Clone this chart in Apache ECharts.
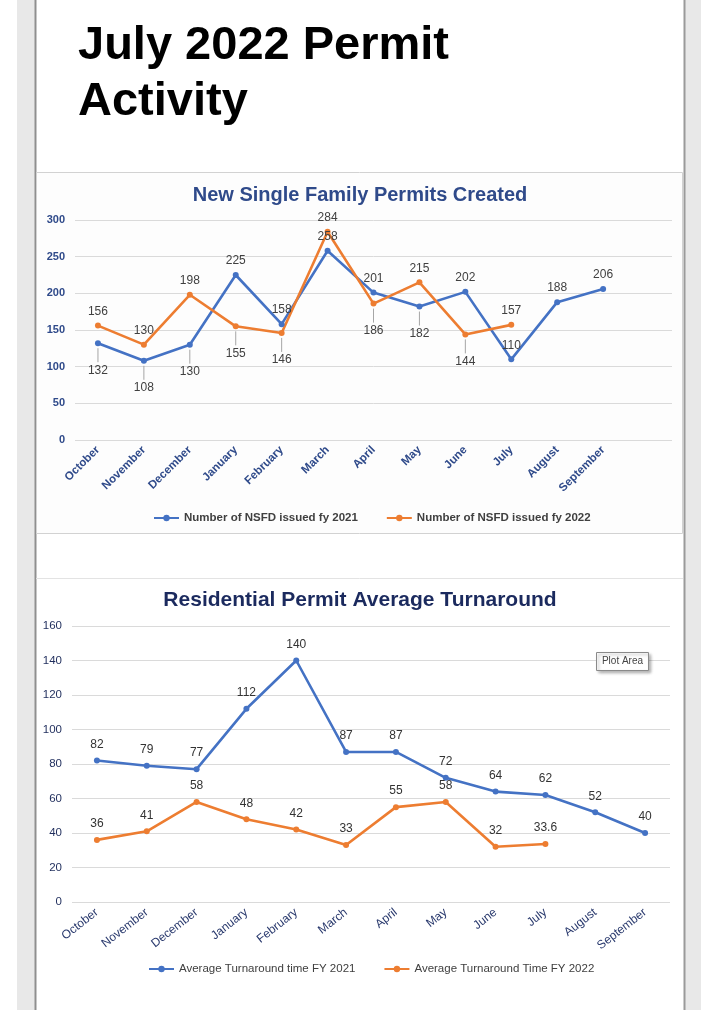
<!DOCTYPE html>
<html><head><meta charset="utf-8">
<script src="https://cdn.jsdelivr.net/npm/echarts@6/dist/echarts.min.js"></script>
<style>html,body{margin:0;padding:0;background:#fff}#c{width:701px;height:1010px}</style>
</head><body><div id="c"></div>
<script>
const pageTitle = 'July 2022 Permit\nActivity';
const months = ['October','November','December','January','February','March','April','May','June','July','August','September'];

const permitTitle = 'New Single Family Permits Created';
const permitNames = ['Number of NSFD issued fy 2021','Number of NSFD issued fy 2022'];
const nsfd2021 = [132,108,130,225,158,258,201,182,202,110,188,206];
const nsfd2022 = [156,130,198,155,146,284,186,215,144,157];
const permitTicks = {min:0, max:300, step:50};

const turnTitle = 'Residential Permit Average Turnaround';
const turnNames = ['Average Turnaround time FY 2021','Average Turnaround Time FY 2022'];
const turn2021 = [82,79,77,112,140,87,87,72,64,62,52,40];
const turn2022 = [36,41,58,48,42,33,55,58,32,33.6];
const turnTicks = {min:0, max:160, step:20};

// which labels sit below their point (with a leader line), top chart
const below2021 = [0,1,2,7];
const below2022 = [3,4,6,8];

const BLUE = '#4472C4', ORANGE = '#ED7D31';
const FONT = '"Liberation Sans", Arial, sans-serif';

function topSeriesData(values, belowIdx){
  return values.map((v,i)=>({value:v, label:{show: !belowIdx.includes(i)}}));
}

function belowLabels(values, belowIdx){
  return {
    type:'custom', xAxisIndex:0, yAxisIndex:0, silent:true, z:5,
    data: belowIdx.map(i=>[i, values[i]]),
    renderItem:function(params, api){
      const p = api.coord([api.value(0), api.value(1)]);
      return {type:'group', children:[
        {type:'line', shape:{x1:p[0], y1:p[1]+5, x2:p[0], y2:p[1]+19}, style:{stroke:'#a6a6a6', lineWidth:1}},
        {type:'text', x:p[0], y:p[1]+27, style:{text:String(api.value(1)), fontFamily:FONT, fontSize:12, fill:'#404040', textAlign:'center', textVerticalAlign:'middle'}}
      ]};
    }
  };
}

const chart = echarts.init(document.getElementById('c'), null, {renderer:'canvas'});

const lineBase = {
  type:'line', symbol:'circle', symbolSize:6, lineStyle:{width:2.6},
  label:{show:true, position:'top', distance:5, fontFamily:FONT, fontSize:12, color:'#404040'}
};

const option = {
  backgroundColor:'#ffffff',
  animation:false,
  graphic:[
    {type:'rect', shape:{x:17,y:0,width:18,height:1010}, style:{fill:'#e8e8e8'}, z:-10},
    {type:'rect', shape:{x:685,y:0,width:16,height:1010}, style:{fill:'#e8e8e8'}, z:-10},
    {type:'line', shape:{x1:35.5,y1:0,x2:35.5,y2:1010}, style:{stroke:'#8f8f8f', lineWidth:2}, z:-9},
    {type:'line', shape:{x1:684.5,y1:0,x2:684.5,y2:1010}, style:{stroke:'#9a9a9a', lineWidth:2}, z:-9},
    {type:'rect', shape:{x:36.5,y:172.5,width:646,height:361}, style:{fill:'#fdfdfd', stroke:'#d2d2d2', lineWidth:1}, z:-8},
    {type:'line', shape:{x1:36,y1:578.5,x2:683,y2:578.5}, style:{stroke:'#e3e3e3', lineWidth:1}, z:-8},
    {type:'text', x:78, y:74, style:{text:pageTitle, fontFamily:FONT, fontWeight:'bold', fontSize:47, lineHeight:56, fill:'#000', textVerticalAlign:'middle'}},
    {type:'text', x:360, y:195, style:{text:permitTitle, fontFamily:FONT, fontWeight:'bold', fontSize:20, fill:'#2F4A8A', textAlign:'center', textVerticalAlign:'middle'}},
    {type:'text', x:360, y:600, style:{text:turnTitle, fontFamily:FONT, fontWeight:'bold', fontSize:21, fill:'#1B2A5E', textAlign:'center', textVerticalAlign:'middle'}},
    {type:'rect', shape:{x:596.5,y:652.5,width:52,height:18}, style:{fill:'#fff', stroke:'#8a8a8a', lineWidth:1, shadowBlur:3, shadowOffsetX:2, shadowOffsetY:2, shadowColor:'rgba(0,0,0,0.3)'}, z:50},
    {type:'text', x:622.5, y:661.5, style:{text:'Plot Area', fontFamily:FONT, fontSize:10, fill:'#444', textAlign:'center', textVerticalAlign:'middle'}, z:51}
  ],
  legend:[
    {data:permitNames, left:148, top:507, itemGap:28, itemWidth:25, itemHeight:8,
     textStyle:{fontFamily:FONT, fontSize:11.5, fontWeight:'bold', color:'#404040'}},
    {data:turnNames, left:143, top:958, itemGap:28, itemWidth:25, itemHeight:8,
     textStyle:{fontFamily:FONT, fontSize:11.5, color:'#404040'}}
  ],
  grid:[
    {left:75, right:29, top:220, bottom:570, containLabel:false},
    {left:72, right:31, top:626, bottom:108, containLabel:false}
  ],
  xAxis:[
    {type:'category', gridIndex:0, data:months.concat(['']), boundaryGap:true,
     axisLine:{show:false}, axisTick:{show:false},
     axisLabel:{interval:0, rotate:45, margin:8, fontFamily:FONT, fontSize:11.5, fontWeight:'bold', color:'#2F4A8A'}},
    {type:'category', gridIndex:1, data:months, boundaryGap:true,
     axisLine:{show:false}, axisTick:{show:false},
     axisLabel:{interval:0, rotate:38, margin:9, fontFamily:FONT, fontSize:12, color:'#2A3A6E'}}
  ],
  yAxis:[
    {type:'value', gridIndex:0, min:permitTicks.min, max:permitTicks.max, interval:permitTicks.step,
     axisLine:{show:false}, axisTick:{show:false}, splitLine:{lineStyle:{color:'#dadada'}},
     axisLabel:{margin:10, fontFamily:FONT, fontSize:11, fontWeight:'bold', color:'#2F4A8A'}},
    {type:'value', gridIndex:1, min:turnTicks.min, max:turnTicks.max, interval:turnTicks.step,
     axisLine:{show:false}, axisTick:{show:false}, splitLine:{lineStyle:{color:'#dadada'}},
     axisLabel:{margin:10, fontFamily:FONT, fontSize:11.5, color:'#1F2D5C'}}
  ],
  series:[
    Object.assign({}, lineBase, {name:permitNames[0], xAxisIndex:0, yAxisIndex:0, color:BLUE, data:topSeriesData(nsfd2021, below2021)}),
    Object.assign({}, lineBase, {name:permitNames[1], xAxisIndex:0, yAxisIndex:0, color:ORANGE, data:topSeriesData(nsfd2022, below2022)}),
    belowLabels(nsfd2021, below2021),
    belowLabels(nsfd2022, below2022),
    Object.assign({}, lineBase, {name:turnNames[0], xAxisIndex:1, yAxisIndex:1, color:BLUE, data:turn2021,
      label:{show:true, position:'top', distance:7, fontFamily:FONT, fontSize:12, color:'#333'}}),
    Object.assign({}, lineBase, {name:turnNames[1], xAxisIndex:1, yAxisIndex:1, color:ORANGE, data:turn2022,
      label:{show:true, position:'top', distance:7, fontFamily:FONT, fontSize:12, color:'#333'}})
  ]
};
chart.setOption(option);
</script>
</body></html>
